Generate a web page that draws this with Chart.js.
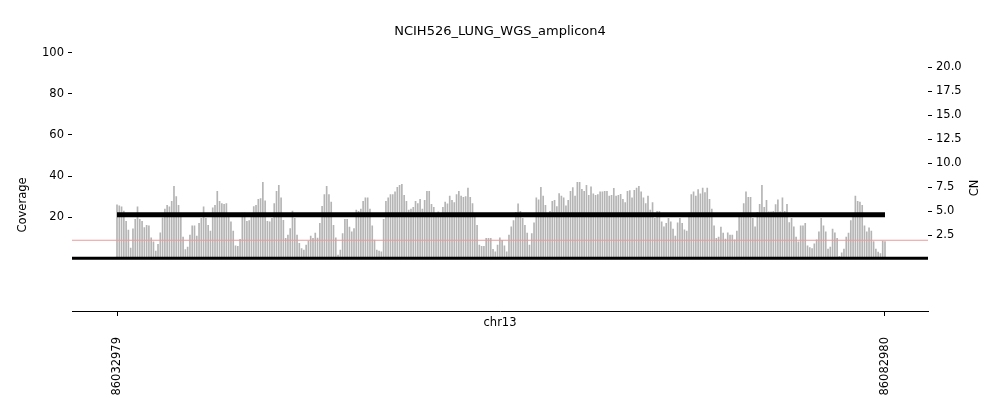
<!DOCTYPE html>
<html>
<head>
<meta charset="utf-8">
<script src="https://cdn.jsdelivr.net/npm/chart.js@4/dist/chart.umd.min.js"></script>
<style>
  html, body { margin: 0; padding: 0; background: #fff; }
</style>
</head>
<body>
<canvas id="ampliconChart" width="1000" height="416"></canvas>
<script>
const chrom = 'chr13';
const regionStart = 86032979;
const regionEnd = 86082980;
const copyNumber = 4.67;
const baselineCN = 2;
const coverageTicks = [20, 40, 60, 80, 100];
const cnTicks = [2.5, 5, 7.5, 10, 12.5, 15, 17.5, 20];

// coverage per bin, read left to right
const coverage = [
    26, 25.5, 25, 23, 18, 13.7, 5, 14.4, 19, 25, 19, 18, 15, 16, 15.8, 10, 8, 3.5, 6.8, 12.4,
    19.7, 24, 25.8, 25, 27.7, 35, 30, 25.8, 20, 10.3, 4.2, 5.5, 11.3, 15.8, 15.8, 10.8, 17, 19.4, 25, 19.4,
    16, 13.2, 24.5, 25.8, 32.6, 27.7, 26.6, 26.3, 26.6, 20, 17.7, 13.2, 6.1, 5.8, 9.2, 22, 22, 18, 18.4, 20,
    25.2, 25.8, 28.7, 29, 37, 28,
    18, 17.7, 19.4, 26.6, 32.6, 35.5, 29.4, 18.5, 9.7, 11.3, 14.5, 23, 19.4, 11.3, 7.3, 4.7, 4, 6.5, 8.4, 10.8,
    9.7, 12.3, 9.8, 17, 25.3, 31, 35, 31, 27.4, 16, 10, 1.6, 4, 12, 18.9, 18.9, 15.2, 12.9, 14.5, 23.4,
    22.9, 24, 27.7, 29.4, 29.4, 23.9, 15.8, 8.9, 4, 3.5, 3.2, 18.9, 27.7, 29.4, 31, 31, 32.3, 34.5, 35.5, 36,
    30.6, 27.7, 23.4, 23.9, 24.8, 27.7, 26.6, 28.7,
    23.9, 28.2, 32.6, 32.6, 26.3, 24.8, 21.8, 22.6, 21, 24.8, 27.4, 26.5, 30.3, 28.2, 27.1, 31, 32.6, 30.3, 29.7, 30,
    34.2, 29.7, 26.6, 21, 16.1, 6.5, 5.8, 5.8, 9.7, 9.7, 9.7, 4.4, 3.2, 6.5, 10, 8.7, 6.1, 3.2, 11.3, 15.3,
    18.4, 22.3, 26.5, 22.9, 19.4, 16.1, 12.3, 6.5, 12, 17.3, 29.4, 28.4, 34.5, 30.2, 25.8, 21.8, 22.9, 27.7, 28.2, 25.2,
    31.5, 30.2, 29.4, 25.5, 28.2, 32.6, 34.4,
    30.2, 37, 37, 33.5, 32.6, 35.5, 30.6, 34.8, 31.3, 30.6, 31, 32.3, 32.3, 32.6, 32.6, 30.2, 30.6, 34, 30.2, 30.6,
    31.1, 28.7, 27.1, 32.6, 32.9, 29.4, 33, 34.2, 35, 32.3, 29.4, 26.6, 30.3, 23.4, 27.1, 19.4, 22.9, 22.9, 17.7, 15.3,
    17, 19.4, 17.7, 14.2, 10.8, 17.3, 19.4, 17, 13.9, 13.2, 22, 31, 32.3, 30.3, 33.4, 31.3, 34.2, 32, 34.2, 28.7,
    23.9, 15.8, 9.7, 10.3, 15.2, 12.3, 9.4, 12.4, 11.3,
    11.3, 9, 13.2, 21, 22, 26.6, 32.3, 29.7, 29.7, 19.4, 15.3, 22.3, 26.3, 35.5, 24.8, 28.2, 22.6, 22.6, 22.9, 26.1,
    28.4, 22.6, 29.4, 22.9, 26.3, 17.4, 19.4, 15.3, 10.3, 8, 15.8, 15.8, 17, 6.1, 5.2, 4.8, 7.1, 9, 12.9, 19.4,
    15.8, 12.9, 4.5, 5.5, 14.2, 12.4, 9.7, 1, 2.7, 4.5, 10.3, 12.3, 18.4, 21, 30.3, 27.7, 27.3, 25.8, 15.8, 12.9,
    14.8, 13.2, 8.1, 4.5, 3, 2.3, 8.4, 8.1
];

// bins are evenly spaced across the amplicon
const binSize = (regionEnd - regionStart) / (coverage.length - 1);
const binPos = coverage.map((_, i) => regionStart + i * binSize);

const xMin = 86030049;
const xMax = 86085780;

const axisFont = { family: 'DejaVu Sans', size: 11.5 };

const textPlugin = {
    id: 'axisText',
    afterDraw(chart) {
        const c = chart.ctx;
        c.save();
        c.fillStyle = '#000';
        c.font = '11.5px "DejaVu Sans"';
        c.textAlign = 'center';
        c.textBaseline = 'middle';
        c.fillText(chrom, 500, 323);
        c.translate(23, 205);
        c.rotate(-Math.PI / 2);
        c.fillText('Coverage', 0, 0);
        c.restore();
        c.save();
        c.fillStyle = '#000';
        c.font = '11.5px "DejaVu Sans"';
        c.textAlign = 'center';
        c.textBaseline = 'middle';
        c.translate(975, 188);
        c.rotate(-Math.PI / 2);
        c.fillText('CN', 0, 0);
        c.restore();
    }
};

const ctx = document.getElementById('ampliconChart').getContext('2d');
const ampliconChart = new Chart(ctx, {
    type: 'bar',
    data: {
        datasets: [
            {
                type: 'line',
                data: [{ x: regionStart, y: copyNumber }, { x: regionEnd, y: copyNumber }],
                yAxisID: 'y2',
                borderColor: '#000',
                borderWidth: 5,
                pointRadius: 0,
                order: 1
            },
            {
                type: 'line',
                data: [{ x: xMin, y: 0 }, { x: xMax, y: 0 }],
                yAxisID: 'y',
                borderColor: '#000',
                borderWidth: 3,
                pointRadius: 0,
                order: 1
            },
            {
                type: 'line',
                data: [{ x: xMin, y: baselineCN }, { x: xMax, y: baselineCN }],
                yAxisID: 'y2',
                borderColor: '#ec9a9a',
                borderWidth: 1,
                pointRadius: 0,
                order: 2
            },
            {
                data: binPos.map((p, i) => ({ x: p, y: coverage[i] })),
                yAxisID: 'y',
                backgroundColor: '#b4b4b4',
                barThickness: 1,
                order: 3
            }
        ]
    },
    options: {
        responsive: false,
        animation: false,
        devicePixelRatio: 1,
        layout: { padding: 0 },
        plugins: {
            legend: { display: false },
            tooltip: { enabled: false },
            title: {
                display: true,
                text: 'NCIH526_LUNG_WGS_amplicon4',
                color: '#000',
                font: { family: 'DejaVu Sans', size: 13, weight: 'normal' },
                padding: { top: 24, bottom: 13 }
            }
        },
        scales: {
            x: {
                type: 'linear',
                min: xMin,
                max: xMax,
                offset: false,
                afterBuildTicks: s => { s.ticks = [{ value: regionStart }, { value: regionEnd }]; },
                afterFit: s => { s.height = 105; },
                ticks: {
                    autoSkip: false,
                    minRotation: 90,
                    maxRotation: 90,
                    padding: 21,
                    color: '#000',
                    font: axisFont,
                    callback: v => String(v)
                },
                grid: { offset: false, drawOnChartArea: false, tickLength: 5, color: '#000' },
                border: { display: true, color: '#000', width: 1 }
            },
            y: {
                position: 'left',
                min: -25.6,
                max: 100,
                afterBuildTicks: s => { s.ticks = coverageTicks.map(v => ({ value: v })); },
                afterFit: s => { s.width = 72; },
                ticks: { padding: 4, color: '#000', font: axisFont },
                grid: { drawOnChartArea: false, tickLength: 4, color: '#000' },
                border: { display: false }
            },
            y2: {
                position: 'right',
                min: -5.37,
                max: 21.55,
                afterBuildTicks: s => { s.ticks = cnTicks.map(v => ({ value: v })); },
                afterFit: s => { s.width = 72; },
                ticks: { padding: 4, color: '#000', font: axisFont, callback: v => v.toFixed(1) },
                grid: { drawOnChartArea: false, tickLength: 4, color: '#000' },
                border: { display: false }
            }
        }
    },
    plugins: [textPlugin]
});
</script>
</body>
</html>
